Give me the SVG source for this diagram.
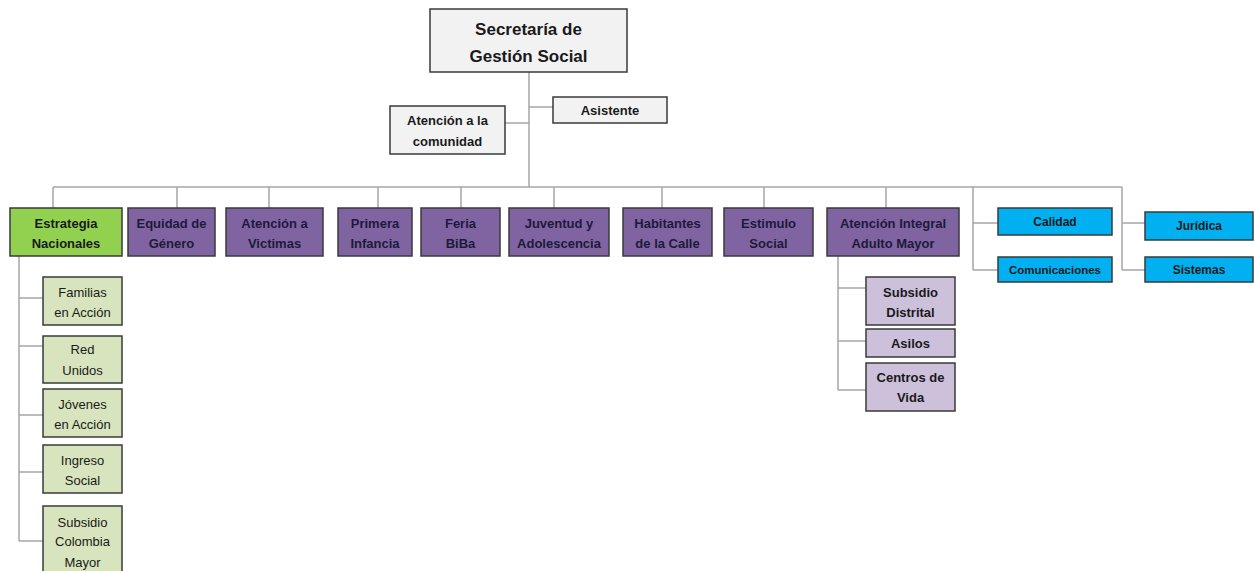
<svg xmlns="http://www.w3.org/2000/svg" width="1254" height="571" viewBox="0 0 1254 571">
<style>
text{font-family:"Liberation Sans",Arial,sans-serif;text-anchor:middle;fill:#1a1a1a}
.b{font-weight:bold}
.box{stroke:#3a3a3a;stroke-width:1.5}
.gray{fill:#f2f2f2}
.green{fill:#92d050}
.purple{fill:#8064a2}
.blue{fill:#00b0f0}
.lgreen{fill:#d7e4bd}
.lav{fill:#ccc0da}
.t13{font-size:13px}
.t12{font-size:12px}
.conn line{stroke:#a6a6a6;stroke-width:1.5}
.p text{fill:#1c1a3a}
</style>
<rect width="1254" height="571" fill="#ffffff"/>
<g class="conn">
<line x1="529" y1="72" x2="529" y2="187"/>
<line x1="529" y1="107" x2="553" y2="107"/>
<line x1="505" y1="123" x2="529" y2="123"/>
<line x1="53" y1="187" x2="1122" y2="187"/>
<line x1="53" y1="187" x2="53" y2="208"/>
<line x1="177" y1="187" x2="177" y2="208"/>
<line x1="269" y1="187" x2="269" y2="208"/>
<line x1="378" y1="187" x2="378" y2="208"/>
<line x1="461" y1="187" x2="461" y2="208"/>
<line x1="554" y1="187" x2="554" y2="208"/>
<line x1="662" y1="187" x2="662" y2="208"/>
<line x1="764" y1="187" x2="764" y2="208"/>
<line x1="886" y1="187" x2="886" y2="208"/>
<line x1="973" y1="187" x2="973" y2="270"/>
<line x1="973" y1="223" x2="998" y2="223"/>
<line x1="973" y1="270" x2="998" y2="270"/>
<line x1="1122" y1="187" x2="1122" y2="270"/>
<line x1="1122" y1="223" x2="1145" y2="223"/>
<line x1="1122" y1="270" x2="1145" y2="270"/>
<line x1="19" y1="256" x2="19" y2="541"/>
<line x1="19" y1="298" x2="43" y2="298"/>
<line x1="19" y1="346" x2="43" y2="346"/>
<line x1="19" y1="415" x2="43" y2="415"/>
<line x1="19" y1="472" x2="43" y2="472"/>
<line x1="19" y1="541" x2="43" y2="541"/>
<line x1="838" y1="256" x2="838" y2="390"/>
<line x1="838" y1="288" x2="866" y2="288"/>
<line x1="838" y1="341" x2="866" y2="341"/>
<line x1="838" y1="390" x2="866" y2="390"/>
</g>
<g id="secretaria"><rect class="box gray" x="430" y="9" width="197" height="63"/><text class="b" x="528.5" y="35" font-size="17">Secretaría de</text><text class="b" x="528.5" y="62" font-size="17">Gestión Social</text></g>
<g id="asistente"><rect class="box gray" x="553" y="97" width="114" height="26"/><text class="b t13" x="610" y="115">Asistente</text></g>
<g id="atencion-comunidad"><rect class="box gray" x="390" y="106" width="115" height="48"/><text class="b t13" x="447.5" y="124.5">Atención a la</text><text class="b t13" x="447.5" y="146">comunidad</text></g>
<g id="estrategia"><rect class="box green" x="10" y="208" width="112" height="48"/><text class="b t13" x="66" y="227.5">Estrategia</text><text class="b t13" x="66" y="247.5">Nacionales</text></g>
<g id="equidad" class="p"><rect class="box purple" x="128" y="208" width="87" height="48"/><text class="b t13" x="171.5" y="227.5">Equidad de</text><text class="b t13" x="171.5" y="247.5">Género</text></g>
<g id="victimas" class="p"><rect class="box purple" x="226" y="208" width="97" height="48"/><text class="b t13" x="274.5" y="227.5">Atención a</text><text class="b t13" x="274.5" y="247.5">Victimas</text></g>
<g id="primera" class="p"><rect class="box purple" x="338" y="208" width="74" height="48"/><text class="b t13" x="375" y="227.5">Primera</text><text class="b t13" x="375" y="247.5">Infancia</text></g>
<g id="feria" class="p"><rect class="box purple" x="421" y="208" width="79" height="48"/><text class="b t13" x="460.5" y="227.5">Feria</text><text class="b t13" x="460.5" y="247.5">BiBa</text></g>
<g id="juventud" class="p"><rect class="box purple" x="509" y="208" width="100" height="48"/><text class="b t13" x="559" y="227.5">Juventud y</text><text class="b t13" x="559" y="247.5">Adolescencia</text></g>
<g id="habitantes" class="p"><rect class="box purple" x="623" y="208" width="89" height="48"/><text class="b t13" x="667.5" y="227.5">Habitantes</text><text class="b t13" x="667.5" y="247.5">de la Calle</text></g>
<g id="estimulo" class="p"><rect class="box purple" x="724" y="208" width="89" height="48"/><text class="b t13" x="768.5" y="227.5">Estimulo</text><text class="b t13" x="768.5" y="247.5">Social</text></g>
<g id="adulto-mayor" class="p"><rect class="box purple" x="827" y="208" width="132" height="48"/><text class="b t13" x="893" y="227.5">Atención Integral</text><text class="b t13" x="893" y="247.5">Adulto Mayor</text></g>
<g id="calidad"><rect class="box blue" x="998" y="208" width="114" height="27"/><text class="b t12" x="1055" y="226">Calidad</text></g>
<g id="comunicaciones"><rect class="box blue" x="998" y="257" width="114" height="25"/><text class="b" font-size="11.5" x="1055" y="274">Comunicaciones</text></g>
<g id="juridica"><rect class="box blue" x="1145" y="212" width="108" height="28"/><text class="b t12" x="1199" y="230">Jurídica</text></g>
<g id="sistemas"><rect class="box blue" x="1145" y="257" width="108" height="25"/><text class="b t12" x="1199" y="274">Sistemas</text></g>
<g id="familias"><rect class="box lgreen" x="43" y="277" width="79" height="48"/><text class="t13" x="82.5" y="296.5">Familias</text><text class="t13" x="82.5" y="316.5">en Acción</text></g>
<g id="red-unidos"><rect class="box lgreen" x="43" y="336" width="79" height="47"/><text class="t13" x="82.5" y="353.5">Red</text><text class="t13" x="82.5" y="374.5">Unidos</text></g>
<g id="jovenes"><rect class="box lgreen" x="43" y="389" width="79" height="48"/><text class="t13" x="82.5" y="408.5">Jóvenes</text><text class="t13" x="82.5" y="428.5">en Acción</text></g>
<g id="ingreso"><rect class="box lgreen" x="43" y="445" width="79" height="48"/><text class="t13" x="82.5" y="464.5">Ingreso</text><text class="t13" x="82.5" y="484.5">Social</text></g>
<g id="colombia-mayor"><rect class="box lgreen" x="43" y="506" width="79" height="70"/><text class="t13" x="82.5" y="526.5">Subsidio</text><text class="t13" x="82.5" y="545.5">Colombia</text><text class="t13" x="82.5" y="566.5">Mayor</text></g>
<g id="subsidio-distrital"><rect class="box lav" x="866" y="277" width="89" height="48"/><text class="b t13" x="910.5" y="296.5">Subsidio</text><text class="b t13" x="910.5" y="316.5">Distrital</text></g>
<g id="asilos"><rect class="box lav" x="866" y="329" width="89" height="28"/><text class="b t13" x="910.5" y="347.5">Asilos</text></g>
<g id="centros-vida"><rect class="box lav" x="866" y="363" width="89" height="48"/><text class="b t13" x="910.5" y="381.5">Centros de</text><text class="b t13" x="910.5" y="401.5">Vida</text></g>
</svg>
